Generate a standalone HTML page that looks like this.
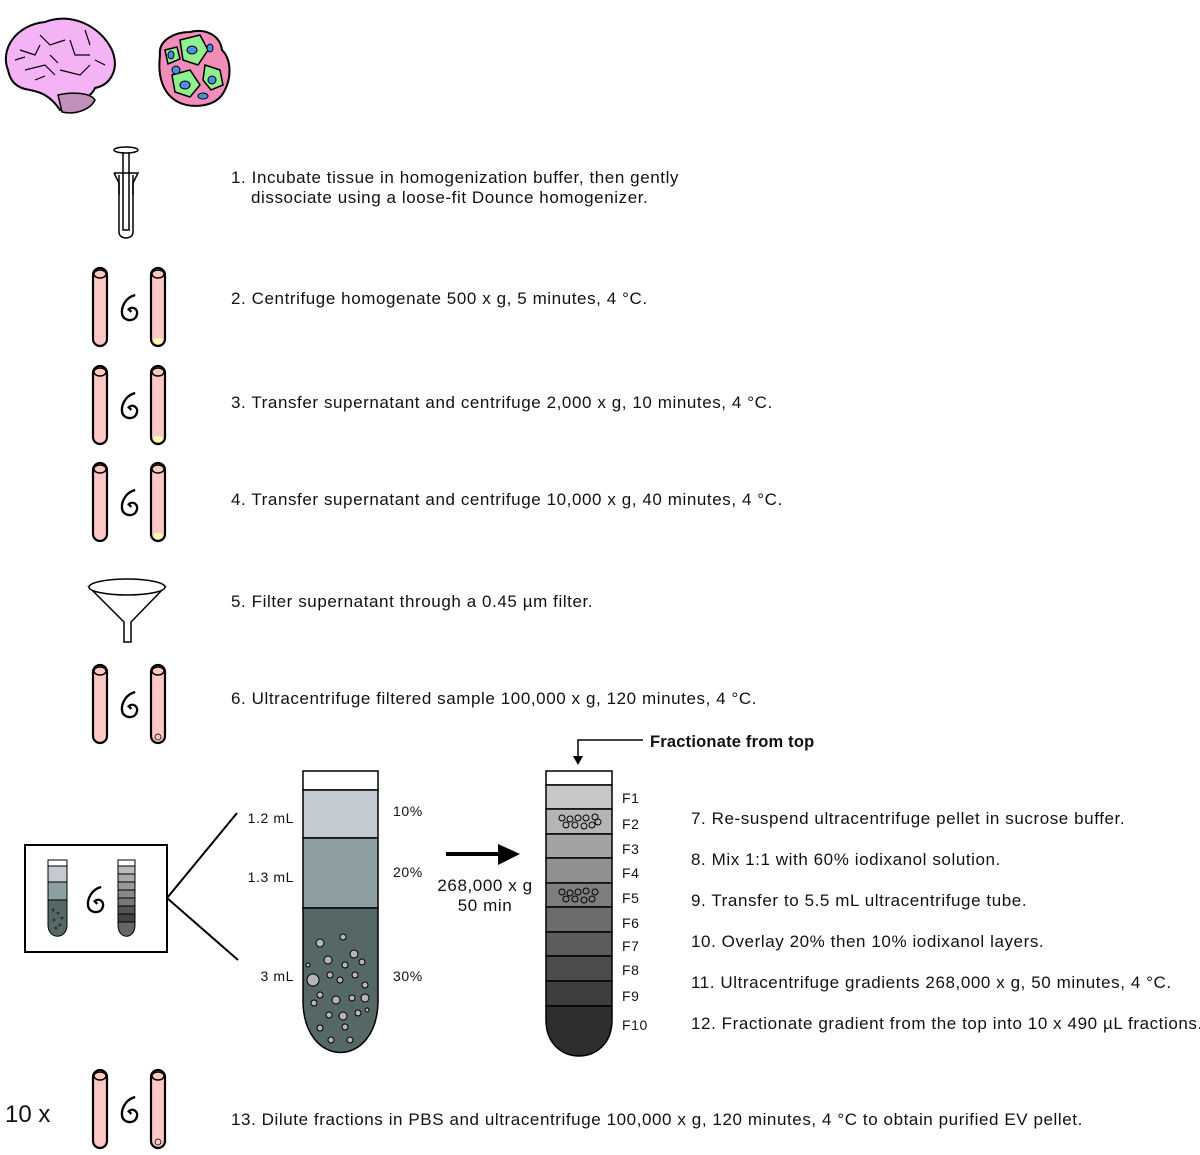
<!DOCTYPE html>
<html><head><style>
body{margin:0;background:#fff;}
svg text{font-family:"Liberation Sans",Arial,sans-serif;fill:#111;}
.t{font-size:17px;letter-spacing:0.58px;}
.s{font-size:14px;letter-spacing:0.6px;}
</style></head><body>
<svg width="1200" height="1150" viewBox="0 0 1200 1150" xmlns="http://www.w3.org/2000/svg">
<defs>
<g id="tube">
<rect x="-7" y="0" width="14" height="78" rx="7" fill="#fcc8c4" stroke="#000" stroke-width="2.2"/>
<ellipse cx="0" cy="6" rx="6" ry="4" fill="none" stroke="#000" stroke-width="1.5"/>
</g>
<g id="spiral"><path d="M4,-10 C-4,-8 -7,0 -6,5 C-5,10 3,11 5,6 C7,1 2,-2 -1,1 L1,3" fill="none" stroke="#000" stroke-width="1.8" transform="scale(1.3)"/></g>
<g id="cent">
<use href="#tube" x="100" y="0"/>
<use href="#spiral" x="130" y="40"/>
<use href="#tube" x="158" y="0"/>
</g>
</defs>

<!-- brain -->
<path d="M8,70 C0,50 15,25 45,22 C70,12 100,25 112,50 C120,70 110,85 95,88 C90,100 75,100 70,110 L60,110 C50,95 40,92 30,90 C15,88 10,80 8,70Z" fill="#f4b3f4" stroke="#000" stroke-width="2"/>
<path d="M58,95 C70,92 90,92 95,100 C90,110 75,115 62,112Z" fill="#c090b8" stroke="#000" stroke-width="1.5"/>
<path d="M20,50 l15,5 l5,-10 M40,35 l10,10 l15,-5 M70,40 l5,15 l15,0 M25,70 l20,-5 l10,10 M60,70 l20,5 l10,-10 M85,30 l5,15 M15,60 l10,-3 M50,55 l8,8 M95,60 l10,5 M35,80 l10,-4" fill="none" stroke="#000" stroke-width="1.2"/>
<!-- tumor -->
<path d="M160,55 C158,40 175,32 190,32 C205,28 220,35 222,50 C232,60 232,80 222,95 C212,108 190,108 178,102 C165,95 157,80 160,55Z" fill="#f28cb8" stroke="#000" stroke-width="2"/>
<path d="M180,40 l20,-5 l8,15 l-10,15 l-15,-5Z M172,75 l18,-5 l10,15 l-10,12 l-15,-5Z M205,65 l15,5 l3,15 l-12,5 l-8,-10Z M165,50 l12,-3 l3,12 l-12,5Z" fill="#90f090" stroke="#000" stroke-width="1.5"/>
<g fill="#4a90e0" stroke="#000" stroke-width="1"><ellipse cx="192" cy="50" rx="5" ry="4"/><ellipse cx="176" cy="70" rx="4" ry="4"/><ellipse cx="185" cy="85" rx="5" ry="4"/><ellipse cx="212" cy="80" rx="4" ry="4"/><ellipse cx="203" cy="96" rx="5" ry="3"/><ellipse cx="210" cy="48" rx="3" ry="4"/><ellipse cx="171" cy="55" rx="3" ry="4"/></g>

<!-- dounce -->
<g fill="#fff" stroke="#000" stroke-width="1.5">
<path d="M119,175 L119,232 C119,240 133,240 133,232 L133,175"/>
<rect x="123" y="150" width="6" height="80" fill="none"/>
<ellipse cx="126" cy="150" rx="12" ry="3"/>
<path d="M114,173 L138,173 L133,183 L133,195 M119,195 L119,183 L114,173" fill="none"/>
</g>
<text x="231" y="183" class="t">1. Incubate tissue in homogenization buffer, then gently</text>
<text x="251" y="203" class="t">dissociate using a loose-fit Dounce homogenizer.</text>

<use href="#cent" y="268"/>
<ellipse cx="158" cy="341" rx="5" ry="3" fill="#ffffb0"/>
<text x="231" y="304" class="t">2. Centrifuge homogenate 500 x g, 5 minutes, 4 °C.</text>
<use href="#cent" y="366"/>
<ellipse cx="158" cy="439" rx="5" ry="3" fill="#ffffb0"/>
<text x="231" y="408" class="t">3. Transfer supernatant and centrifuge 2,000 x g, 10 minutes, 4 °C.</text>
<use href="#cent" y="463"/>
<ellipse cx="158" cy="536" rx="5" ry="3" fill="#ffffb0"/>
<text x="231" y="505" class="t">4. Transfer supernatant and centrifuge 10,000 x g, 40 minutes, 4 °C.</text>

<!-- funnel -->
<path d="M89,587 L165,587 L131,622 L131,642 L124,642 L124,622Z" fill="#fff" stroke="#000" stroke-width="1.5"/>
<ellipse cx="127" cy="587" rx="38" ry="8" fill="#fff" stroke="#000" stroke-width="1.5"/>
<text x="231" y="607" class="t">5. Filter supernatant through a 0.45 µm filter.</text>

<use href="#cent" y="665"/>
<circle cx="158" cy="737" r="3" fill="none" stroke="#000" stroke-width="0.8"/>
<text x="231" y="704" class="t">6. Ultracentrifuge filtered sample 100,000 x g, 120 minutes, 4 °C.</text>

<!-- inset box -->
<rect x="25" y="845" width="142" height="107" fill="#fff" stroke="#000" stroke-width="2"/>
<rect x="48" y="860" width="19" height="6" fill="#fff" stroke="#000"/>
<rect x="48" y="866" width="19" height="16" fill="#c4cad0" stroke="#000"/>
<rect x="48" y="882" width="19" height="18" fill="#8d9fa0" stroke="#000"/>
<path d="M48,900 L67,900 L67,925 C67,940 48,940 48,925Z" fill="#566866" stroke="#000"/>
<g fill="#333"><circle cx="53" cy="910" r="1.5"/><circle cx="58" cy="913" r="1.5"/><circle cx="62" cy="918" r="1.5"/><circle cx="54" cy="920" r="1.5"/><circle cx="60" cy="925" r="1.5"/><circle cx="56" cy="928" r="1.5"/></g>
<path d="M118,860 L135,860 L135,925 C135,940 118,940 118,925Z" fill="#666" stroke="#000"/>
<g stroke="#000" stroke-width="1"><rect x="118" y="860" width="17" height="6" fill="#fff"/><rect x="118" y="866" width="17" height="8" fill="#bbb"/><rect x="118" y="874" width="17" height="8" fill="#aaa"/><rect x="118" y="882" width="17" height="8" fill="#999"/><rect x="118" y="890" width="17" height="8" fill="#888"/><rect x="118" y="898" width="17" height="8" fill="#777"/><rect x="118" y="906" width="17" height="8" fill="#555"/><rect x="118" y="914" width="17" height="8" fill="#444"/></g>
<use href="#spiral" x="96" y="900"/>
<path d="M167,898 L237,813 M167,898 L238,960" stroke="#000" stroke-width="2"/>

<!-- big tube -->
<rect x="303" y="771" width="75" height="19" fill="#fff" stroke="#000" stroke-width="1.5"/>
<rect x="303" y="790" width="75" height="48" fill="#c3cad1" stroke="#000" stroke-width="1.5"/>
<rect x="303" y="838" width="75" height="70" fill="#8c9e9f" stroke="#000" stroke-width="1.5"/>
<path d="M303,908 L378,908 L378,1000 C378,1070 303,1070 303,1000Z" fill="#566866" stroke="#000" stroke-width="1.5"/>
<g fill="#b5b5b5" stroke="#000" stroke-width="1">
<circle cx="320" cy="943" r="4"/><circle cx="343" cy="937" r="3"/><circle cx="328" cy="960" r="4"/><circle cx="354" cy="954" r="4"/><circle cx="345" cy="965" r="3"/><circle cx="313" cy="980" r="6"/><circle cx="330" cy="975" r="3"/><circle cx="355" cy="975" r="3"/><circle cx="365" cy="985" r="3"/><circle cx="340" cy="980" r="3"/><circle cx="320" cy="995" r="3"/><circle cx="336" cy="1000" r="4"/><circle cx="352" cy="998" r="3"/><circle cx="365" cy="998" r="4"/><circle cx="329" cy="1015" r="3"/><circle cx="343" cy="1016" r="4"/><circle cx="358" cy="1013" r="3"/><circle cx="320" cy="1028" r="3"/><circle cx="345" cy="1027" r="3"/><circle cx="331" cy="1040" r="3"/><circle cx="350" cy="1040" r="3"/><circle cx="308" cy="965" r="2"/><circle cx="362" cy="962" r="3"/><circle cx="314" cy="1003" r="3"/><circle cx="367" cy="1010" r="2"/>
</g>
<text x="294" y="823" class="s" text-anchor="end">1.2 mL</text>
<text x="294" y="882" class="s" text-anchor="end">1.3 mL</text>
<text x="294" y="981" class="s" text-anchor="end">3 mL</text>
<text x="393" y="816" class="s">10%</text>
<text x="393" y="877" class="s">20%</text>
<text x="393" y="981" class="s">30%</text>

<path d="M446,854 L500,854" stroke="#000" stroke-width="4"/>
<path d="M498,844 L520,854 L498,865Z" fill="#000"/>
<text x="485" y="891" class="t" text-anchor="middle">268,000 x g</text>
<text x="485" y="911" class="t" text-anchor="middle">50 min</text>

<!-- fraction tube -->
<g stroke="#000" stroke-width="1.5">
<rect x="546" y="771" width="66" height="14" fill="#fff"/>
<rect x="546" y="785" width="66" height="24" fill="#c8c8c8"/>
<rect x="546" y="809" width="66" height="25" fill="#b5b5b5"/>
<rect x="546" y="834" width="66" height="24" fill="#a2a2a2"/>
<rect x="546" y="858" width="66" height="25" fill="#909090"/>
<rect x="546" y="883" width="66" height="24" fill="#7e7e7e"/>
<rect x="546" y="907" width="66" height="25" fill="#6c6c6c"/>
<rect x="546" y="932" width="66" height="24" fill="#5c5c5c"/>
<rect x="546" y="956" width="66" height="25" fill="#4c4c4c"/>
<rect x="546" y="981" width="66" height="25" fill="#3e3e3e"/>
<path d="M546,1006 L612,1006 L612,1020 C612,1068 546,1068 546,1020Z" fill="#2e2e2e"/>
</g>
<g fill="none" stroke="#000" stroke-width="1">
<circle cx="562" cy="818" r="3"/><circle cx="570" cy="819" r="3"/><circle cx="578" cy="818" r="3"/><circle cx="586" cy="818" r="3"/><circle cx="595" cy="817" r="3"/><circle cx="566" cy="825" r="3"/><circle cx="575" cy="825" r="3"/><circle cx="584" cy="826" r="3"/><circle cx="592" cy="825" r="3"/><circle cx="598" cy="822" r="3"/>
<circle cx="562" cy="892" r="3"/><circle cx="570" cy="893" r="3"/><circle cx="578" cy="892" r="3"/><circle cx="586" cy="891" r="3"/><circle cx="595" cy="892" r="3"/><circle cx="566" cy="899" r="3"/><circle cx="575" cy="899" r="3"/><circle cx="584" cy="900" r="3"/><circle cx="592" cy="899" r="3"/>
</g>
<g class="s"><text x="622" y="803">F1</text><text x="622" y="829">F2</text><text x="622" y="854">F3</text><text x="622" y="878">F4</text><text x="622" y="903">F5</text><text x="622" y="928">F6</text><text x="622" y="951">F7</text><text x="622" y="975">F8</text><text x="622" y="1001">F9</text><text x="622" y="1030">F10</text></g>
<path d="M643,740 L578,740 L578,757" fill="none" stroke="#000" stroke-width="1.5"/>
<path d="M573,756 L583,756 L578,765Z" fill="#000"/>
<text x="650" y="747" font-size="16.5" font-weight="bold" letter-spacing="0.2">Fractionate from top</text>

<g class="t">
<text x="691" y="824">7. Re-suspend ultracentrifuge pellet in sucrose buffer.</text>
<text x="691" y="865">8.  Mix 1:1 with 60% iodixanol solution.</text>
<text x="691" y="906">9.  Transfer to 5.5 mL ultracentrifuge tube.</text>
<text x="691" y="947">10. Overlay 20% then 10% iodixanol layers.</text>
<text x="691" y="988">11. Ultracentrifuge gradients 268,000 x g, 50 minutes, 4 °C.</text>
<text x="691" y="1029">12. Fractionate gradient from the top into 10 x 490 µL fractions.</text>
</g>

<text x="5" y="1122" font-size="24">10 x</text>
<use href="#cent" y="1070"/>
<circle cx="158" cy="1142" r="3" fill="none" stroke="#000" stroke-width="0.8"/>
<text x="231" y="1125" class="t">13. Dilute fractions in PBS and ultracentrifuge 100,000 x g, 120 minutes, 4 °C to obtain purified EV pellet.</text>
</svg>
</body></html>
